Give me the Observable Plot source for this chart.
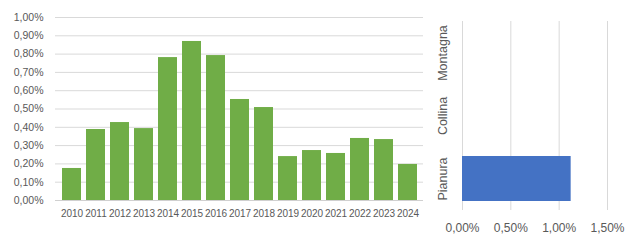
<!DOCTYPE html>
<html>
<head>
<meta charset="utf-8">
<script src="https://cdn.jsdelivr.net/npm/d3@7"></script>
<script src="https://cdn.jsdelivr.net/npm/@observablehq/plot@0.6"></script>
<style>
  html, body { margin: 0; padding: 0; background: #fff; }
  #wrap { position: relative; width: 630px; height: 240px; overflow: hidden; }
  #left { position: absolute; left: 0; top: 0; }
  #right { position: absolute; left: 430px; top: 0; }
</style>
</head>
<body>
<div id="wrap"><div id="left"></div><div id="right"></div></div>
<script>
const years = ["2010","2011","2012","2013","2014","2015","2016","2017","2018","2019","2020","2021","2022","2023","2024"];
const yearValues = [0.175,0.388,0.426,0.393,0.781,0.869,0.792,0.552,0.508,0.240,0.273,0.257,0.339,0.333,0.197]; // percent
const zones = ["Montagna","Collina","Pianura"];
const zoneValues = [0, 0, 1.124]; // percent
const leftTicks = [0,0.001,0.002,0.003,0.004,0.005,0.006,0.007,0.008,0.009,0.010];
const rightTicks = [0,0.005,0.010,0.015];

const it = d3.formatLocale({decimal: ",", thousands: ".", grouping: [3], currency: ["€", ""]});
const pct = it.format(".2%");

const textColor = "#595959";
const gridColor = "#d9d9d9";
const style = {fontFamily: "Liberation Sans, Arial, sans-serif", fontSize: "10px", color: textColor, background: "#fff", overflow: "visible"};

const yearData = years.map((y, i) => ({year: y, value: yearValues[i] / 100}));
const zoneData = zones.map((z, i) => ({zone: z, value: zoneValues[i] / 100}));

const left = Plot.plot({
  width: 430, height: 240,
  marginLeft: 55, marginRight: 7, marginTop: 17, marginBottom: 40,
  style,
  x: {type: "band", domain: years, paddingInner: 0.22, paddingOuter: 0.11, label: null},
  y: {domain: [0, 0.01], label: null},
  marks: [
    Plot.gridY(leftTicks.slice(1), {stroke: gridColor, strokeOpacity: 1}),
    Plot.ruleY([0], {stroke: "#d0d0d0"}),
    Plot.barY(yearData, {x: "year", y: "value", fill: "#70ad47"}),
    Plot.axisY(leftTicks, {tickFormat: pct, tickSize: 0, tickPadding: 12, fill: textColor, fontSize: 10.5}),
    Plot.axisX({tickSize: 0, tickPadding: 9, fill: textColor, fontSize: 10})
  ]
});
document.getElementById("left").appendChild(left);

const right = Plot.plot({
  width: 200, height: 240,
  marginLeft: 32, marginRight: 23, marginTop: 21, marginBottom: 30,
  style,
  x: {domain: [0, 0.015], label: null},
  y: {type: "band", domain: zones, paddingInner: 0.29, paddingOuter: 0.145, label: null, axis: null},
  marks: [
    Plot.gridX(rightTicks, {stroke: gridColor, strokeOpacity: 1}),
    Plot.barX(zoneData.filter(d => d.value > 0), {y: "zone", x: "value", fill: "#4472c4"}),
    Plot.axisX(rightTicks, {tickFormat: pct, tickSize: 0, tickPadding: 13, fill: textColor, fontSize: 12}),
    Plot.text(zones, {y: d => d, frameAnchor: "left", dx: -20, rotate: -90, textAnchor: "middle", lineAnchor: "middle", fill: textColor, fontSize: 12.5, text: d => d})
  ]
});
document.getElementById("right").appendChild(right);
</script>
</body>
</html>
